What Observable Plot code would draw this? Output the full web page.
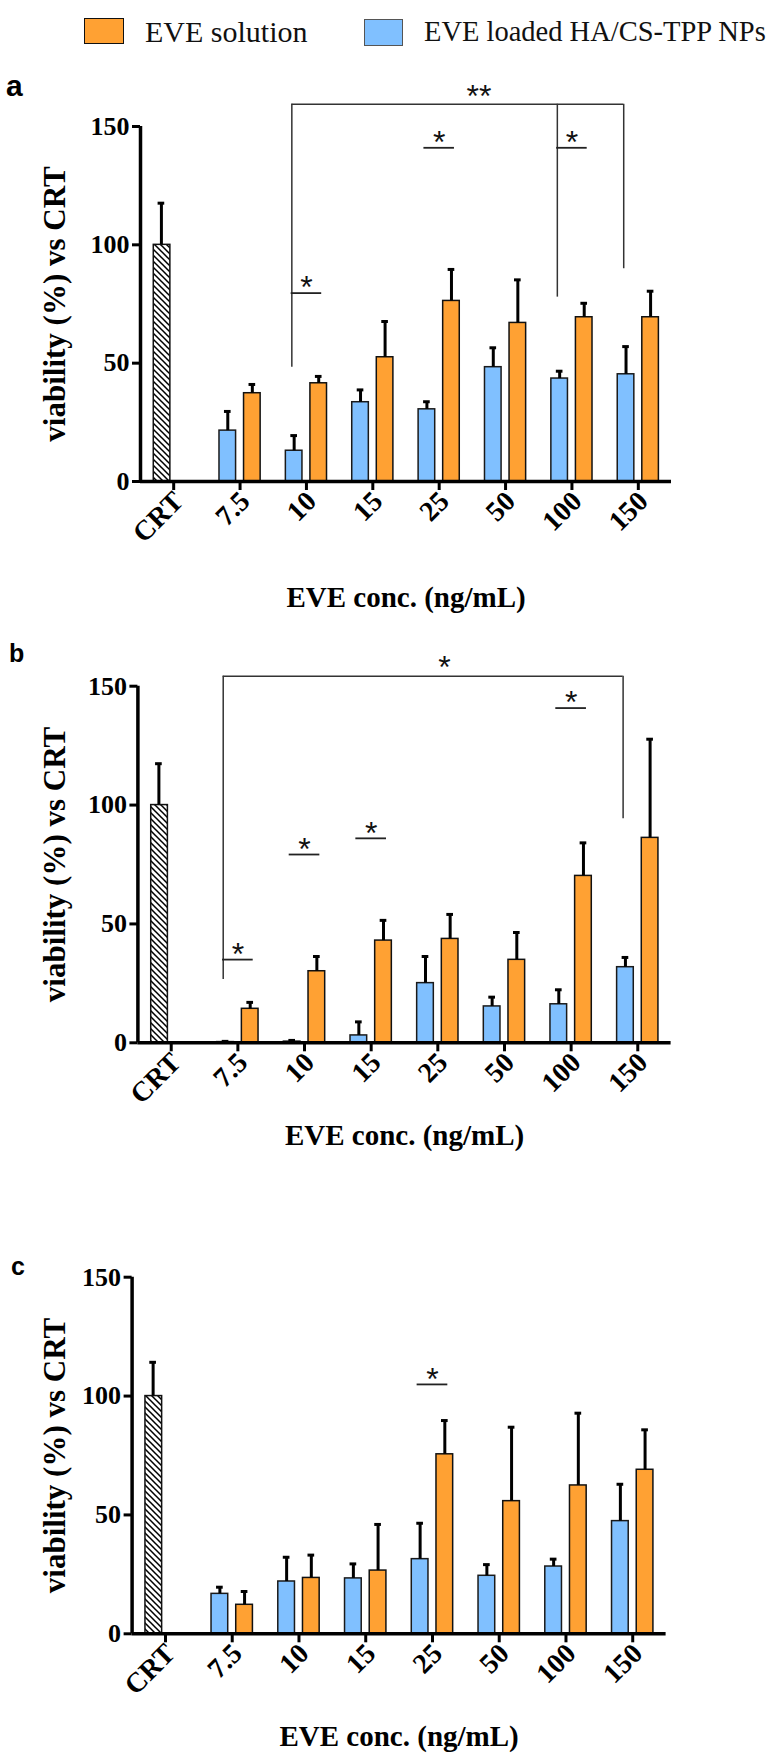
<!DOCTYPE html>
<html><head><meta charset="utf-8">
<script src="https://cdn.jsdelivr.net/npm/d3@7"></script>
<script src="https://cdn.jsdelivr.net/npm/@observablehq/plot@0.6"></script>
<style>
body{margin:0;background:#fff;}
#root{position:relative;width:779px;height:1754px;overflow:hidden;background:#fff;font-family:"Liberation Serif","Times New Roman",serif;}
.letter{position:absolute;font-family:"Liberation Sans",Arial,sans-serif;font-weight:bold;color:#000;}
.sw{position:absolute;box-sizing:border-box;}
.lt{position:absolute;font-family:"Liberation Serif","Times New Roman",serif;line-height:30px;color:#111;white-space:nowrap;}
</style></head>
<body>
<svg width="0" height="0" style="position:absolute"><defs>
<pattern id="hatch" patternUnits="userSpaceOnUse" width="6" height="6">
<rect width="6" height="6" fill="#fff"/>
<path d="M-1,-1L7,7M-1,5L1,7M5,-1L7,1" stroke="#000" stroke-width="1.5"/>
</pattern></defs></svg>
<div id="root"></div>
<script>
// ---- data ----
const categories = ["CRT", "7.5", "10", "15", "25", "50", "100", "150"];
const concs = ["7.5", "10", "15", "25", "50", "100", "150"];
const seriesNames = ["EVE solution", "EVE loaded HA/CS-TPP NPs"];

// panel a
const crtA = 100, crtErrA = 17.6;
const npA = [21.5, 13.0, 33.5, 30.5, 48.3, 43.5, 45.3];
const npErrA = [8.1, 6.4, 5.2, 3.2, 8.2, 3.1, 11.7];
const solA = [37.3, 41.5, 52.5, 76.3, 67.0, 69.4, 69.4];
const solErrA = [3.7, 2.9, 15.1, 13.3, 18.2, 5.9, 11.0];
const bracketsA = [{from: "10", to: "150", level: 159.4, label: "**", drops: [["10", 48.3], ["100", 77.9], ["150", 89.9]]}];
const pairsA = [{cat: "10", level: 79.6, label: "*"}, {cat: "25", level: 141, label: "*"}, {cat: "100", level: 141, label: "*"}];

// panel b
const crtB = 100, crtErrB = 17.4;
const npB = [0.3, 0.5, 3.1, 25.1, 15.3, 16.2, 31.8];
const npErrB = [0.3, 0.5, 5.7, 11.2, 3.9, 6.1, 4.1];
const solB = [14.3, 30.1, 43.0, 43.7, 34.9, 70.2, 86.2];
const solErrB = [2.7, 6.2, 8.5, 10.3, 11.5, 13.9, 41.5];
const bracketsB = [{from: "7.5", to: "150", level: 154.2, label: "*", drops: [["7.5", 26.6], ["150", 94.2]]}];
const pairsB = [{cat: "7.5", level: 35.0, label: "*"}, {cat: "10", level: 79.2, label: "*"}, {cat: "15", level: 86.0, label: "*"}, {cat: "100", level: 140.8, label: "*"}];

// panel c
const crtC = 100, crtErrC = 14.2;
const npC = [16.8, 22.0, 23.3, 31.4, 24.4, 28.3, 47.4];
const npErrC = [2.8, 10.2, 6.1, 15.1, 4.7, 3.1, 15.5];
const solC = [12.2, 23.5, 26.6, 75.5, 55.8, 62.4, 69.0];
const solErrC = [5.6, 9.6, 19.4, 14.2, 31.1, 30.4, 16.8];
const bracketsC = [];
const pairsC = [{cat: "25", level: 104.9, label: "*"}];

const yTicks = [0, 50, 100, 150];
const BLUE = "#80c0ff", ORANGE = "#ffa133";

// ---- drawing ----
const root = document.getElementById("root");
const idx = c => categories.indexOf(c);
const STARFONT = "'Liberation Sans',Arial,sans-serif";

function panel(d, L) {
  const rows = [{cat: "CRT", series: "CRT", value: d.crt, err: d.crtErr, off: -1}];
  concs.forEach((c, k) => {
    rows.push({cat: c, series: "NP", value: d.np[k], err: d.npErr[k], off: -1});
    rows.push({cat: c, series: "SOL", value: d.sol[k], err: d.solErr[k], off: 1});
  });
  rows.forEach(r => { r.i = idx(r.cat); r.c = r.i + r.off * 0.185; });
  const bx = c => idx(c) - 0.22;
  const hLines = [], vLines = [], bStars = [];
  d.brackets.forEach(b => {
    hLines.push({x1: bx(b.from), x2: bx(b.to), y: b.level});
    b.drops.forEach(([c, v]) => vLines.push({x: bx(c), y1: v, y2: b.level}));
    bStars.push({x: (idx(b.from) + idx(b.to)) / 2 + 0.1, y: b.level, label: b.label});
  });
  const pLines = d.pairs.map(p => ({x1: idx(p.cat) - 0.23, x2: idx(p.cat) + 0.23, y: p.level}));
  const pStars = d.pairs.map(p => ({x: idx(p.cat), y: p.level, label: p.label}));
  const xt = d3.range(categories.length);

  const svg = Plot.plot({
    width: 779, height: L.height,
    marginTop: L.mt, marginBottom: L.mb, marginLeft: L.ml, marginRight: L.mr,
    x: {domain: [-0.5, 7.5]},
    y: {domain: [0, 150]},
    style: {fontFamily: "'Liberation Serif','Times New Roman',serif", fontSize: "24px", fontWeight: "bold", color: "#000", background: "transparent", overflow: "visible"},
    marks: [
      Plot.rectY(rows.filter(r => r.series === "CRT"), {x1: r => r.i - 0.30, x2: r => r.i - 0.05, y1: 0, y2: "value", fill: "url(#hatch)", stroke: "#111", strokeWidth: 1.5}),
      Plot.rectY(rows.filter(r => r.series === "NP"), {x1: r => r.i - 0.31, x2: r => r.i - 0.06, y1: 0, y2: "value", fill: BLUE, stroke: "#1a1a1a", strokeWidth: 1.5}),
      Plot.rectY(rows.filter(r => r.series === "SOL"), {x1: r => r.i + 0.06, x2: r => r.i + 0.31, y1: 0, y2: "value", fill: ORANGE, stroke: "#111", strokeWidth: 1.5}),
      Plot.ruleX(rows, {x: "c", y1: "value", y2: r => r.value + r.err, stroke: "#000", strokeWidth: 3}),
      Plot.ruleY(rows, {y: r => r.value + r.err, x1: r => r.c - 0.05, x2: r => r.c + 0.05, stroke: "#000", strokeWidth: 3}),
      Plot.ruleY(hLines, {y: "y", x1: "x1", x2: "x2", stroke: "#333", strokeWidth: 1.5}),
      Plot.ruleX(vLines, {x: "x", y1: "y1", y2: "y2", stroke: "#333", strokeWidth: 1.5}),
      Plot.ruleY(pLines, {y: "y", x1: "x1", x2: "x2", stroke: "#222", strokeWidth: 1.8}),
      Plot.text(pStars, {x: "x", y: "y", text: "label", dy: -5, fontFamily: STARFONT, fontWeight: "normal", fontSize: 32, lineAnchor: "middle", fill: "#111"}),
      Plot.text(bStars, {x: "x", y: "y", text: "label", dy: -8, fontFamily: STARFONT, fontWeight: "normal", fontSize: 32, lineAnchor: "middle", fill: "#111"}),
      Plot.ruleY([0], {stroke: "#000", strokeWidth: 3.5}),
      Plot.ruleX([-0.5], {stroke: "#000", strokeWidth: 3.5}),
      Plot.axisY({ticks: yTicks, tickSize: 8, tickPadding: 3, strokeWidth: 3, fontSize: 26, label: null}),
      // tick marks only
      Plot.axisX({ticks: xt, tickFormat: () => "", tickSize: 9, strokeWidth: 3, label: null}),
      // rotated tick labels only
      Plot.axisX({ticks: xt, tickFormat: i => categories[i], tickSize: 0, tickPadding: 12, tickRotate: -45, dx: 5, dy: 3, fontSize: 28, label: null}),
      Plot.text(["viability (%) vs CRT"], {text: d => d, frameAnchor: "left", rotate: -90, dx: L.ydx, fontSize: 31, textAnchor: "middle", lineAnchor: "middle"}),
      Plot.text(["EVE conc. (ng/mL)"], {text: d => d, frameAnchor: "bottom", dy: L.xdy, fontSize: 29, textAnchor: "middle", lineAnchor: "middle"})
    ]
  });
  svg.style.position = "absolute";
  svg.style.left = "0px";
  svg.style.top = L.top + "px";
  root.appendChild(svg);
}

panel({crt: crtA, crtErr: crtErrA, np: npA, npErr: npErrA, sol: solA, solErr: solErrA, brackets: bracketsA, pairs: pairsA},
  {top: 60, height: 560, mt: 66, mb: 139, ml: 140, mr: 108, ydx: -85, xdy: 116});
panel({crt: crtB, crtErr: crtErrB, np: npB, npErr: npErrB, sol: solB, solErr: solErrB, brackets: bracketsB, pairs: pairsB},
  {top: 620, height: 530, mt: 65.7, mb: 107.7, ml: 137.4, mr: 108.4, ydx: -82.4, xdy: 93});
panel({crt: crtC, crtErr: crtErrC, np: npC, npErr: npErrC, sol: solC, solErr: solErrC, brackets: bracketsC, pairs: pairsC},
  {top: 1220, height: 534, mt: 56.7, mb: 120.7, ml: 131.6, mr: 113.4, ydx: -76.6, xdy: 103});

// panel letters
[["a", 6, 71, 30], ["b", 9, 641, 25], ["c", 11, 1254, 25]].forEach(([t, x, y, s]) => {
  const el = document.createElement("div");
  el.className = "letter";
  el.textContent = t;
  el.style.left = x + "px"; el.style.top = y + "px";
  el.style.fontSize = s + "px"; el.style.lineHeight = s + "px";
  root.appendChild(el);
});

// legend
const legend = [
  {name: seriesNames[0], fill: ORANGE, border: "#111", sx: 84, sy: 18, sw: 40, sh: 26, tx: 145, fs: 30},
  {name: seriesNames[1], fill: BLUE, border: "#555", sx: 364, sy: 19, sw: 39, sh: 27, tx: 424, fs: 28.5}
];
legend.forEach(l => {
  const s = document.createElement("div");
  s.className = "sw";
  Object.assign(s.style, {left: l.sx + "px", top: l.sy + "px", width: l.sw + "px", height: l.sh + "px", background: l.fill, border: "1.5px solid " + l.border});
  root.appendChild(s);
  const t = document.createElement("div");
  t.className = "lt";
  t.textContent = l.name;
  Object.assign(t.style, {left: l.tx + "px", top: "17px", fontSize: l.fs + "px"});
  root.appendChild(t);
});
</script>
</body></html>
